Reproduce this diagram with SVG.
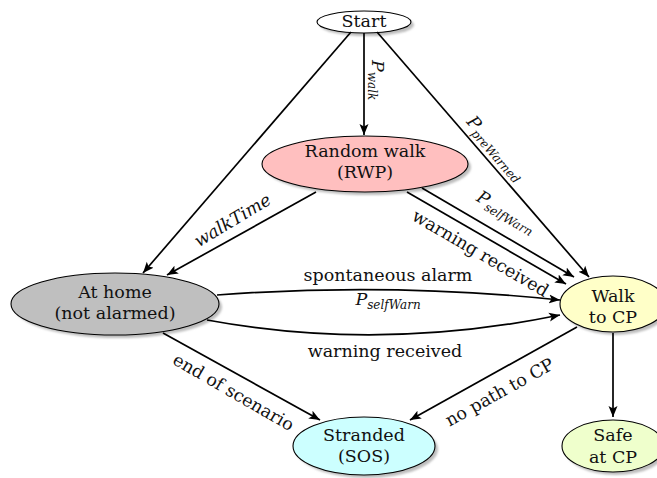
<svg xmlns="http://www.w3.org/2000/svg" width="657" height="478" viewBox="0 0 657 478">
<style>
text{font-family:"DejaVu Serif","Liberation Serif",serif;font-size:17.5px;fill:#111}
.nt{text-anchor:middle}
.node{stroke:#000;stroke-width:1.1}
.sh{fill:#bdbdbd;filter:url(#blur)}
.edge{fill:none;stroke:#000;stroke-width:1.7;marker-end:url(#arr)}
.it{font-style:italic}
.sub{font-style:italic;font-size:12px}
.lbl{text-anchor:middle}
</style>
<defs>
<filter id="blur" x="-20%" y="-20%" width="140%" height="140%"><feGaussianBlur stdDeviation="1.2"/></filter>
<marker id="arr" viewBox="0 -5 12 10" refX="11" refY="0" markerWidth="12" markerHeight="10" markerUnits="userSpaceOnUse" orient="auto">
<path d="M0,-4.5 L11,0 L0,4.5 L2.5,0 z" fill="#000"/>
</marker>
</defs>
<rect width="657" height="478" fill="#fff"/>

<g id="start">
<ellipse class="sh" cx="367" cy="25" rx="47" ry="11"/>
<ellipse class="node" cx="364" cy="22" rx="47" ry="11" fill="#fff"/>
<text class="nt" x="364" y="27">Start</text>
</g>
<g id="rwp">
<ellipse class="sh" cx="368" cy="167" rx="103" ry="28"/>
<ellipse class="node" cx="365" cy="164" rx="103" ry="28" fill="#ffbfbf"/>
<text class="nt" x="365" y="157">Random walk</text>
<text class="nt" x="365" y="178">(RWP)</text>
</g>
<g id="home">
<ellipse class="sh" cx="118" cy="307" rx="104" ry="31"/>
<ellipse class="node" cx="115" cy="304" rx="104" ry="31" fill="#bfbfbf"/>
<text class="nt" x="115" y="298">At home</text>
<text class="nt" x="115" y="319">(not alarmed)</text>
</g>
<g id="walk">
<ellipse class="sh" cx="616" cy="307" rx="53" ry="28"/>
<ellipse class="node" cx="613" cy="304" rx="53" ry="28" fill="#ffffc8"/>
<text class="nt" x="613" y="302">Walk</text>
<text class="nt" x="613" y="323">to CP</text>
</g>
<g id="safe">
<ellipse class="sh" cx="616" cy="449" rx="51" ry="26"/>
<ellipse class="node" cx="613" cy="446" rx="51" ry="26" fill="#efffcc"/>
<text class="nt" x="613" y="441">Safe</text>
<text class="nt" x="613" y="463">at CP</text>
</g>
<g id="stranded">
<ellipse class="sh" cx="367" cy="449" rx="71" ry="29"/>
<ellipse class="node" cx="364" cy="446" rx="71" ry="29" fill="#ccffff"/>
<text class="nt" x="364" y="441">Stranded</text>
<text class="nt" x="364" y="462">(SOS)</text>
</g>

<g id="connectors">
<path class="edge" d="M351,32 L143,273"/>
<path class="edge" d="M364,33 L364,135"/>
<path class="edge" d="M377,32 L589,277"/>
<path class="edge" d="M316,192 L167,275"/>
<path class="edge" d="M422,188 L574,277"/>
<path class="edge" d="M407,192 L566,284"/>
<path class="edge" d="M217,295 Q388,282 560,300"/>
<path class="edge" d="M207,320 Q380,352 560,315"/>
<path class="edge" d="M163,333 L320,420"/>
<path class="edge" d="M577,327 L410,420"/>
<path class="edge" d="M613,333 L613,417"/>

<text transform="translate(372,60) rotate(90)" x="0" y="0"><tspan class="it">P</tspan><tspan class="sub" dy="4">walk</tspan></text>
<text class="lbl" transform="translate(494,150) rotate(49)" x="0" y="3"><tspan class="it">P</tspan><tspan class="sub" dy="4">preWarned</tspan></text>
<text class="lbl it" transform="translate(233,221) rotate(-31)" x="0" y="5">walkTime</text>
<text class="lbl" transform="translate(505,214) rotate(30.3)" x="0" y="3"><tspan class="it">P</tspan><tspan class="sub" dy="4">selfWarn</tspan></text>
<text class="lbl" transform="translate(480,254) rotate(30.3)" x="0" y="5">warning received</text>
<text class="lbl" x="388" y="281">spontaneous alarm</text>
<text class="lbl" x="388" y="305"><tspan class="it">P</tspan><tspan class="sub" dy="4">selfWarn</tspan></text>
<text class="lbl" x="385" y="357">warning received</text>
<text class="lbl" transform="translate(233,393) rotate(30)" x="0" y="5">end of scenario</text>
<text class="lbl" transform="translate(500,393) rotate(-29)" x="0" y="5">no path to CP</text>
</g>
</svg>
